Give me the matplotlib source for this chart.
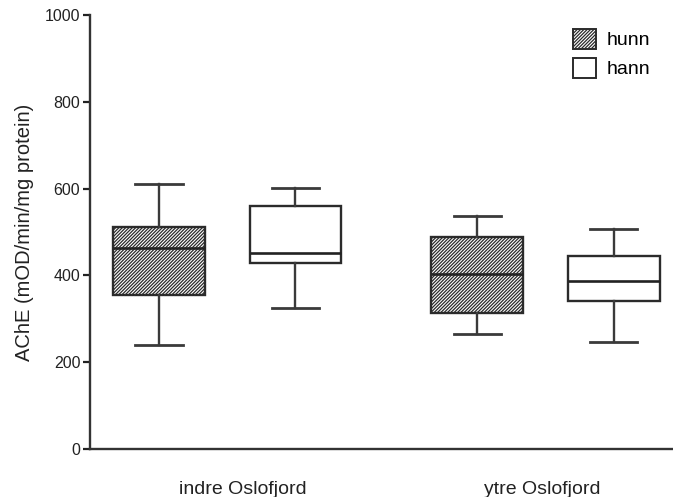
import matplotlib.pyplot as plt
from matplotlib.patches import Patch
import matplotlib as mpl

mpl.rcParams['hatch.linewidth'] = 0.9
mpl.rcParams['hatch.color'] = '#404040'
plt.rcParams['font.family'] = ['Liberation Sans', 'DejaVu Sans']

groups = ['indre Oslofjord', 'ytre Oslofjord']
series = ['hunn', 'hann']

# box stats per series, one value per group
hunn_lo = [240, 265]
hunn_q1 = [355, 314]
hunn_med = [463, 403]
hunn_q3 = [511, 488]
hunn_hi = [610, 537]

hann_lo = [325, 247]
hann_q1 = [429, 340]
hann_med = [452, 388]
hann_q3 = [560, 445]
hann_hi = [601, 507]

yticks = [0, 200, 400, 600, 800, 1000]

fig = plt.figure(figsize=(6.73, 4.97), dpi=100)
ax = fig.add_axes([0.1337, 0.0966, 0.865, 0.8732])

edge = '#2b2b2b'
offset = 0.214
width = 0.289
dense = '/' * 10

def stats(lo, q1, med, q3, hi):
    return [dict(whislo=lo[i], q1=q1[i], med=med[i], q3=q3[i], whishi=hi[i], fliers=[])
            for i in range(len(lo))]

for st, sign, hatch in [
        (stats(hunn_lo, hunn_q1, hunn_med, hunn_q3, hunn_hi), -1, dense),
        (stats(hann_lo, hann_q1, hann_med, hann_q3, hann_hi), 1, None)]:
    pos = [i + 1 + sign * offset for i in range(len(groups))]
    ax.bxp(st, positions=pos, widths=width, patch_artist=True, showfliers=False,
           boxprops=dict(facecolor='white', edgecolor=edge, linewidth=1.7, hatch=hatch),
           medianprops=dict(color='#222222', linewidth=1.9),
           whiskerprops=dict(color='#3a3a3a', linewidth=1.7),
           capprops=dict(color='#3a3a3a', linewidth=2.0),
           capwidths=width * 0.52, manage_ticks=False)

ax.set_xlim(0.568, 2.398)
ax.set_ylim(0, 1000)
ax.set_yticks(yticks)
ax.set_xticks([1.047, 1.99])
ax.set_xticklabels(groups, fontsize=14)
ax.tick_params(axis='x', length=0, pad=23, colors='#222222')
ax.tick_params(axis='y', length=5, width=1.6, labelsize=11.5, colors='#222222', pad=2)
ax.set_ylabel('AChE (mOD/min/mg protein)', fontsize=14.5, color='#222222', labelpad=8)

for s in ['top', 'right']:
    ax.spines[s].set_visible(False)
for s in ['left', 'bottom']:
    ax.spines[s].set_linewidth(1.7)
    ax.spines[s].set_color('#333333')

handles = [Patch(facecolor='white', edgecolor=edge, hatch=dense, linewidth=1.4, label='hunn'),
           Patch(facecolor='white', edgecolor=edge, linewidth=1.4, label='hann')]
ax.legend(handles=handles, loc='upper right', bbox_to_anchor=(0.985, 1.0), frameon=False,
          fontsize=14, handlelength=1.2, handleheight=1.2, handletextpad=0.5, labelspacing=0.45,
          borderaxespad=0.3)

fig.savefig('out.png', dpi=100)
